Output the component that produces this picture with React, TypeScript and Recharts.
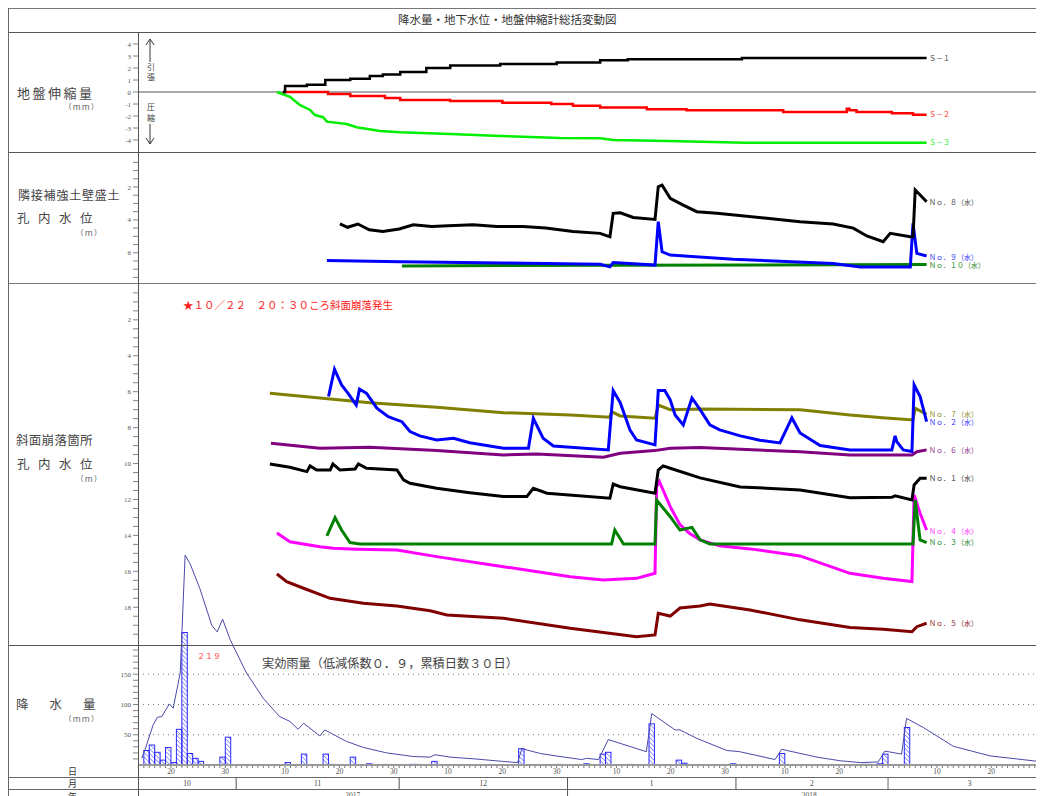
import React from 'react';
import { LineChart, ComposedChart, Line, Bar, XAxis, YAxis, ReferenceLine } from 'recharts';

// x value = "day": days since 2017-10-01 00:00
const X_DOMAIN: [number, number] = [12.925, 179.71];
const W = 1036;
const PLOT_LEFT = 130;
const DAY_W = (W - PLOT_LEFT) / (X_DOMAIN[1] - X_DOMAIN[0]);
const FONT = '"Noto Sans CJK JP", "Noto Sans", sans-serif';
const TICK_FONT = '"Liberation Serif", "DejaVu Serif", serif';

type Pt = [number, number];

// 地盤伸縮量 (mm)
const S1: Pt[] = [[39.6, 0], [40.0, 0.5], [44, 0.6], [47.4, 1.0], [52, 1.1], [55.6, 1.33], [58, 1.45], [61.2, 1.67], [66, 2.0], [70.4, 2.2], [79.6, 2.33], [90, 2.45], [98, 2.64], [103.1, 2.72], [124.1, 2.83], [158.1, 2.83]];
const S2: Pt[] = [[39.6, 0], [47.9, -0.17], [52, -0.33], [58.4, -0.5], [61.2, -0.67], [70.4, -0.75], [80, -0.9], [89, -1.0], [93, -1.15], [98, -1.3], [106.6, -1.44], [113.9, -1.53], [131.7, -1.67], [143.4, -1.4], [143.9, -1.53], [145.2, -1.67], [151.7, -1.78], [155.6, -1.89], [158.1, -1.89]];
const S3: Pt[] = [[38.5, 0], [40.9, -0.4], [42.7, -1.08], [44.6, -1.5], [45.5, -1.92], [47.0, -2.1], [47.7, -2.47], [51.3, -2.67], [53.2, -2.94], [57.5, -3.25], [61.2, -3.36], [70.4, -3.5], [79.6, -3.67], [90.6, -3.83], [98, -3.86], [100.4, -4.0], [110.5, -4.08], [124.7, -4.22], [158.1, -4.22]];

// 隣接補強土壁盛土 孔内水位 (m)
const NO8: Pt[] = [[50.1, 4.25], [51.5, 4.45], [53.4, 4.25], [55.5, 4.6], [58.0, 4.7], [61, 4.55], [63.6, 4.3], [67, 4.4], [70, 4.35], [74.6, 4.3], [79, 4.4], [83.8, 4.4], [88, 4.5], [93, 4.7], [98, 4.82], [99.8, 5.03], [100.4, 3.6], [101.7, 3.57], [104.1, 3.85], [108.1, 3.97], [108.7, 1.98], [109.4, 1.88], [110.9, 2.69], [113.3, 3.1], [115.8, 3.5], [119.5, 3.6], [128.7, 3.9], [134.8, 4.11], [140.9, 4.25], [144.6, 4.5], [147.1, 4.98], [150.1, 5.33], [151.4, 4.82], [155.1, 5.03], [155.6, 5.03], [156.0, 2.18], [156.6, 2.38], [158.1, 2.9]];
const NO9: Pt[] = [[47.7, 6.47], [61.2, 6.55], [80, 6.62], [98, 6.7], [99.8, 6.86], [100.4, 6.6], [108.1, 6.75], [108.7, 4.11], [109.4, 5.94], [110.9, 6.14], [122.5, 6.4], [140.9, 6.65], [145.9, 6.86], [155.1, 6.86], [155.6, 4.21], [156.3, 6.04], [158.1, 6.2]];
const NO10: Pt[] = [[61.5, 6.8], [100, 6.76], [158.1, 6.72]];

// 斜面崩落箇所 孔内水位 (m)
const NO7: Pt[] = [[37.2, 6.09], [55.6, 6.61], [67.9, 6.87], [80.2, 7.17], [92.5, 7.3], [99.8, 7.42], [100.1, 7.11], [101.7, 7.35], [108.1, 7.48], [108.7, 6.74], [110.9, 7.0], [116.4, 6.96], [134.8, 7.0], [144.0, 7.3], [150, 7.45], [155.6, 7.57], [156.0, 6.92], [158.1, 7.26]];
const NO2: Pt[] = [[48.0, 6.27], [49.1, 4.75], [50.4, 5.62], [51.6, 6.09], [53.1, 6.74], [53.7, 5.86], [55.0, 6.09], [56.9, 6.92], [59.0, 7.39], [60.2, 7.53], [61.5, 7.67], [63.0, 8.22], [64.8, 8.46], [67.9, 8.69], [71.0, 8.59], [74.0, 8.84], [80.2, 9.15], [84.8, 9.15], [85.7, 7.48], [87.5, 8.59], [89.4, 9.02], [99.5, 9.24], [100.4, 5.94], [101.7, 6.61], [103.5, 8.13], [104.7, 8.69], [108.1, 8.96], [108.7, 5.94], [109.9, 5.94], [110.9, 6.46], [111.8, 7.3], [113.3, 7.85], [114.9, 6.35], [116.4, 7.0], [118.2, 7.85], [120.0, 8.13], [123.8, 8.46], [127.4, 8.7], [131.1, 8.85], [133.3, 7.46], [134.8, 8.3], [138.5, 9.0], [144.0, 9.24], [151.7, 9.24], [152.3, 8.46], [152.6, 8.78], [153.8, 9.24], [155.4, 9.33], [155.8, 5.62], [156.9, 6.27], [158.1, 7.67]];
const NO6: Pt[] = [[37.4, 8.87], [46.4, 9.15], [55.6, 9.09], [67.9, 9.28], [80.2, 9.52], [86.3, 9.47], [98.6, 9.65], [101.7, 9.43], [108, 9.28], [110.9, 9.15], [116.4, 9.1], [134.8, 9.35], [144.0, 9.52], [155.4, 9.52], [156.3, 9.34], [158.1, 9.24]];
const NO1: Pt[] = [[37.2, 10.02], [40.9, 10.21], [44.0, 10.45], [44.6, 10.13], [45.8, 10.36], [48.3, 10.36], [48.8, 10.02], [50.1, 10.36], [52.9, 10.3], [53.5, 10.02], [55.0, 10.26], [60.6, 10.36], [61.8, 10.91], [63.0, 11.1], [67.9, 11.38], [74.0, 11.62], [80.2, 11.84], [84.5, 11.84], [85.7, 11.38], [88.2, 11.65], [99.8, 11.93], [100.4, 11.14], [101.7, 11.29], [108.1, 11.65], [108.7, 10.36], [109.6, 10.13], [110.9, 10.26], [116.4, 10.8], [123.8, 11.3], [134.8, 11.47], [144.0, 11.9], [151.7, 11.88], [152.3, 11.8], [155.4, 12.03], [155.8, 11.19], [156.9, 10.82], [158.1, 10.82]];
const NO4: Pt[] = [[38.5, 13.87], [40.9, 14.35], [46.4, 14.63], [48.9, 14.72], [53.2, 14.77], [60.6, 14.81], [67.9, 15.18], [80.2, 15.74], [92.5, 16.3], [98.6, 16.48], [104.7, 16.39], [108.1, 16.11], [108.4, 11.29], [108.9, 11.0], [110.9, 12.4], [112.7, 13.4], [114.5, 13.9], [116.4, 14.25], [120.0, 14.58], [125.6, 14.75], [134.8, 15.14], [144.0, 16.11], [150.1, 16.39], [155.4, 16.57], [155.8, 11.75], [156.9, 12.77], [158.1, 13.7]];
const NO3: Pt[] = [[47.7, 14.03], [49.2, 13.01], [50.4, 13.7], [51.95, 14.4], [53.8, 14.48], [100.1, 14.48], [100.7, 13.7], [102.3, 14.48], [108.1, 14.48], [108.4, 12.03], [110.9, 12.96], [112.7, 13.7], [114.9, 13.55], [116.4, 14.25], [118.2, 14.48], [155.6, 14.48], [156.0, 12.03], [156.9, 14.25], [158.1, 14.4]];
const NO5: Pt[] = [[38.5, 16.15], [40.3, 16.57], [43.4, 16.94], [48.3, 17.5], [54.4, 17.78], [60.6, 17.93], [66.7, 18.19], [69.8, 18.43], [80.2, 18.61], [92.5, 19.17], [104.7, 19.64], [108.1, 19.54], [108.7, 18.34], [110.9, 18.49], [112.7, 18.04], [116.4, 17.93], [118.2, 17.82], [125.6, 18.15], [134.8, 18.7], [144.0, 19.12], [150.1, 19.23], [155.4, 19.36], [156.3, 19.08], [158.1, 18.89]];

// 日雨量 (mm)
const RAIN: [string, number][] = [
  ['10/15', 24], ['10/16', 33], ['10/17', 21], ['10/18', 8], ['10/19', 29], ['10/20', 4], ['10/21', 59], ['10/22', 219],
  ['10/23', 19], ['10/24', 11], ['10/25', 6], ['10/29', 13], ['10/30', 46],
  ['11/10', 4], ['11/13', 18], ['11/17', 18], ['11/18', 1], ['11/22', 13], ['11/25', 2], ['11/28', 1],
  ['12/3', 1], ['12/4', 1], ['12/7', 6], ['12/23', 27], ['12/30', 1],
  ['1/4', 2], ['1/7', 18], ['1/8', 21], ['1/12', 1], ['1/16', 68], ['1/21', 8], ['1/22', 3], ['1/31', 2],
  ['2/9', 19], ['2/24', 1], ['2/25', 1], ['2/27', 2], ['2/28', 18],
  ['3/4', 62],
];
// 実効雨量 (mm)
const EFFECTIVE: Pt[] = [[13.6, 11], [14.2, 25], [15.7, 66], [16.5, 79], [17.3, 80], [18.7, 101], [19.4, 94], [20.7, 152], [21.6, 347], [22.5, 333], [24.3, 292], [26.5, 231], [27.5, 220], [28.5, 241], [29.9, 207], [32.9, 152], [36, 110], [39, 80], [40.9, 72], [42.4, 59], [43.4, 69], [46.4, 48], [47.3, 58], [51.3, 39], [54.4, 29], [58.7, 20], [63.6, 14], [66.7, 13], [67.6, 17], [70.4, 13], [75, 10], [80, 6], [82.8, 4], [83.6, 27], [87, 19], [90.6, 14], [94.6, 9], [95.5, 11], [97.7, 9], [99.5, 42], [106.5, 22], [107.5, 85], [111.8, 58], [112.7, 58], [115.8, 44], [121.3, 24], [123.7, 22], [130.2, 9], [131.4, 26], [137.9, 13], [142.2, 7], [145.9, 4], [149.2, 5], [150.4, 23], [153.5, 18], [154.4, 77], [157.5, 62], [163, 31], [169.8, 15], [179.6, 5]];

const MONTHS = [
  { m: 10, label: '10', start: 0 },
  { m: 11, label: '11', start: 31 },
  { m: 12, label: '12', start: 61 },
  { m: 1, label: '1', start: 92 },
  { m: 2, label: '2', start: 123 },
  { m: 3, label: '3', start: 151 },
];
const LAST_DAY_END = 181;
const YEARS = [{ label: '2017', from: X_DOMAIN[0], to: 92 }, { label: '2018', from: 92, to: LAST_DAY_END }];
const DAY_MARKS = [10, 20, 30];

const P1_LABELS = [-4, -3, -2, -1, 0, 1, 2, 3, 4];
const P2_LABELS = [2, 4, 6];
const P3_LABELS = [2, 4, 6, 8, 10, 12, 14, 16, 18];
const RAIN_LABELS = [50, 100, 150];

const toRows = (pts: Pt[]) => pts.map(([day, v]) => ({ day, v }));
const dayIndex = (md: string) => {
  const [m, d] = md.split('/').map(Number);
  const mo = MONTHS.find((x) => x.m === m)!;
  return mo.start + d - 1;
};
const rainRows = RAIN.map(([md, mm]) => ({ day: dayIndex(md) + 0.5, mm }));

const steps = (from: number, to: number, step: number) => {
  const out: number[] = [];
  for (let i = 0; from + i * step <= to + 1e-9; i++) out.push(from + i * step);
  return out;
};

// date axis bookkeeping
const dayLabelMap = new Map<number, string>();
const monthBounds = new Set<number>();
const monthLabelMap = new Map<number, string>();
MONTHS.forEach((mo, i) => {
  const end = i < MONTHS.length - 1 ? MONTHS[i + 1].start : LAST_DAY_END;
  DAY_MARKS.forEach((d) => {
    const t = mo.start + d - 1;
    if (t < end && t > X_DOMAIN[0]) dayLabelMap.set(t, String(d));
  });
  if (i > 0) monthBounds.add(mo.start);
  monthLabelMap.set((Math.max(mo.start, X_DOMAIN[0]) + end) / 2, mo.label);
});
const yearLabelMap = new Map<number, string>();
YEARS.forEach((y) => yearLabelMap.set((y.from + y.to) / 2, y.label));
const DATE_TICKS = Array.from(
  new Set([...steps(13, 179, 1), ...monthLabelMap.keys(), ...yearLabelMap.keys()])
).sort((a, b) => a - b);

const renderDateTick = (p: any) => {
  const v = p.payload.value;
  const x = p.x;
  const y = p.y;
  const els: React.ReactNode[] = [];
  if (Number.isInteger(v)) {
    els.push(<line key="t" x1={x} x2={x} y1={y + 1} y2={y + 3} stroke="#555" strokeWidth={0.8} />);
  }
  if (dayLabelMap.has(v)) {
    els.push(
      <text key="d" x={x} y={y + 9} textAnchor="middle" fontSize={7.5} fill="#555" fontFamily={TICK_FONT}>
        {dayLabelMap.get(v)}
      </text>
    );
  }
  if (monthBounds.has(v)) {
    els.push(<line key="mb" x1={x} x2={x} y1={y + 12} y2={y + 24} stroke={v === 151 ? '#999' : '#555'} strokeWidth={v === 151 ? 1.5 : 1} />);
  }
  if (v === 92) {
    els.push(<line key="yb" x1={x} x2={x} y1={y + 24} y2={y + 40} stroke="#555" strokeWidth={1} />);
  }
  if (monthLabelMap.has(v)) {
    els.push(
      <text key="m" x={x} y={y + 21} textAnchor="middle" fontSize={7.5} fill="#444" fontFamily={TICK_FONT}>
        {monthLabelMap.get(v)}
      </text>
    );
  }
  if (yearLabelMap.has(v)) {
    els.push(
      <text key="y" x={x} y={y + 33} textAnchor="middle" fontSize={7.5} fill="#555" fontFamily={TICK_FONT}>
        {yearLabelMap.get(v)}
      </text>
    );
  }
  return <g>{els}</g>;
};

const yTick = (labels: number[]) => (p: any) => {
  const v = p.payload.value;
  if (!labels.includes(v)) return <g />;
  return (
    <text x={p.x} y={p.y} dy={2.5} textAnchor="end" fontSize={7} fill="#555" fontFamily={TICK_FONT}>
      {v}
    </text>
  );
};

// one-day wide hatched bar, centred on the x the library computed
const RainBar = (p: any) => {
  const { x, y, width, height } = p;
  if (!height || height <= 0) return <g />;
  const cx = x + width / 2;
  return (
    <rect x={cx - DAY_W / 2} y={y} width={DAY_W} height={height} fill="url(#hatch)" stroke="#2a2aff" strokeWidth={1} />
  );
};

const margin = { top: 0, right: 0, bottom: 0, left: PLOT_LEFT - 30 };
const yAxisCommon = {
  type: 'number' as const,
  width: 30,
  interval: 0 as const,
  tickSize: 5,
  tickMargin: 2,
  axisLine: false,
  tickLine: { stroke: '#666', strokeWidth: 0.8 },
  allowDataOverflow: true,
};
const hiddenX = <XAxis type="number" dataKey="day" domain={X_DOMAIN} hide allowDataOverflow />;

const series = (pts: Pt[], color: string, width = 3, type: any = 'linear') => (
  <Line data={toRows(pts)} dataKey="v" type={type} stroke={color} strokeWidth={width} dot={false} isAnimationActive={false} />
);

const Txt = ({ x, y, size, color = '#333', ls = 0, family = FONT, children }: any) => (
  <div
    style={{
      position: 'absolute',
      left: x - 8,
      top: y - 8 - size / 2,
      fontSize: size,
      lineHeight: `${size}px`,
      color,
      letterSpacing: ls,
      whiteSpace: 'nowrap',
      fontFamily: family,
    }}
  >
    {children}
  </div>
);

const HLine = ({ y, color = '#555', w = 1 }: any) => (
  <div style={{ position: 'absolute', left: 0, top: y - 8, width: W, height: w, background: color }} />
);

const place = (top: number): React.CSSProperties => ({ position: 'absolute', left: 0, top: top - 8 });

export default function App() {
  return (
    <div style={{ position: 'relative', width: W, height: 788, overflow: 'hidden', background: '#fff', fontFamily: FONT }}>
      {/* 地盤伸縮量 */}
      <div style={place(32)}>
        <LineChart width={W} height={120} margin={margin}>
          {hiddenX}
          <YAxis {...yAxisCommon} domain={[-5, 5]} ticks={P1_LABELS} tick={yTick(P1_LABELS)} />
          <ReferenceLine y={0} stroke="#aaa" strokeWidth={2} />
          {series(S3, '#00ee00', 2.5, 'linear')}
          {series(S2, '#ff0000', 2.5, 'stepAfter')}
          {series(S1, '#000000', 2.5, 'stepAfter')}
        </LineChart>
      </div>

      {/* 隣接補強土壁盛土 孔内水位 */}
      <div style={place(152)}>
        <LineChart width={W} height={131} margin={margin}>
          {hiddenX}
          <YAxis {...yAxisCommon} domain={[-0.13, 7.84]} reversed ticks={steps(0.5, 7.5, 0.5)} tick={yTick(P2_LABELS)} />
          {series(NO10, '#008000')}
          {series(NO9, '#0000ff')}
          {series(NO8, '#000000')}
        </LineChart>
      </div>

      {/* 斜面崩落箇所 孔内水位 */}
      <div style={place(283)}>
        <LineChart width={W} height={362} margin={margin}>
          {hiddenX}
          <YAxis {...yAxisCommon} domain={[-0.05, 20.1]} reversed ticks={steps(0.5, 19.5, 0.5)} tick={yTick(P3_LABELS)} />
          {series(NO5, '#800000')}
          {series(NO4, '#ff00ff')}
          {series(NO3, '#008000')}
          {series(NO1, '#000000')}
          {series(NO6, '#800080')}
          {series(NO7, '#808000')}
          {series(NO2, '#0000ff')}
        </LineChart>
      </div>

      {/* 降水量 */}
      <div style={place(540)}>
        <ComposedChart width={W} height={256} data={rainRows} margin={margin}>
          <defs>
            <pattern id="hatch" patternUnits="userSpaceOnUse" width="3.2" height="3.2" patternTransform="rotate(-45)">
              <line x1="0" y1="0" x2="0" y2="3.2" stroke="#3a3aff" strokeWidth="1" />
            </pattern>
          </defs>
          <XAxis
            type="number"
            dataKey="day"
            domain={X_DOMAIN}
            ticks={DATE_TICKS}
            interval={0}
            tick={renderDateTick}
            tickSize={0}
            tickMargin={0}
            height={31}
            axisLine={{ stroke: '#999', strokeWidth: 2 }}
            allowDataOverflow
          />
          <YAxis {...yAxisCommon} domain={[0, 371.9]} ticks={steps(10, 190, 10)} tick={yTick(RAIN_LABELS)} />
          {RAIN_LABELS.map((v) => (
            <ReferenceLine key={v} y={v} stroke="#777" strokeDasharray="1 4" strokeWidth={1} />
          ))}
          <Bar dataKey="mm" barSize={4} shape={RainBar} isAnimationActive={false} />
          {series(EFFECTIVE, '#4a4aaa', 1, 'linear')}
        </ComposedChart>
      </div>

      {/* frame */}
      <HLine y={8} color="#777" />
      <HLine y={32} />
      <HLine y={152} />
      <HLine y={283} color="#777" />
      <HLine y={645} />
      <HLine y={777} color="#666" />
      <HLine y={789} color="#666" />
      <div style={{ position: 'absolute', left: 0, top: 0, width: 1, height: 788, background: '#666' }} />
      <div style={{ position: 'absolute', left: PLOT_LEFT, top: 24, width: 1, height: 764, background: '#555' }} />

      {/* title */}
      <Txt x={398} y={20} size={11.5}>降水量・地下水位・地盤伸縮計総括変動図</Txt>

      {/* left column */}
      <Txt x={17} y={92} size={13} ls={2.5} color="#444">地盤伸縮量</Txt>
      <Txt x={64} y={107} size={7.5} ls={1.5} color="#555">（ｍｍ）</Txt>
      <Txt x={18} y={195} size={12} ls={0.8} color="#444">隣接補強土壁盛土</Txt>
      <Txt x={17} y={218} size={12.5} ls={8.5} color="#444">孔内水位</Txt>
      <Txt x={76} y={233} size={7.5} ls={1.5} color="#555">（ｍ）</Txt>
      <Txt x={16} y={440} size={12.5} ls={0.3} color="#444">斜面崩落箇所</Txt>
      <Txt x={17} y={464} size={12.5} ls={8.5} color="#444">孔内水位</Txt>
      <Txt x={76} y={479} size={7.5} ls={1.5} color="#555">（ｍ）</Txt>
      <Txt x={16} y={704} size={12.5} ls={21} color="#444">降水量</Txt>
      <Txt x={64} y={719} size={7.5} ls={1.5} color="#555">（ｍｍ）</Txt>
      <Txt x={68} y={771} size={9} color="#333">日</Txt>
      <Txt x={68} y={783} size={9} color="#333">月</Txt>
      <Txt x={68} y={796} size={9} color="#333">年</Txt>

      {/* 引張 / 圧縮 arrows */}
      <svg style={{ position: 'absolute', left: 132, top: 28 }} width={20} height={112}>
        <line x1={10} x2={10} y1={4} y2={26} stroke="#333" strokeWidth={1} />
        <polyline points="6,9 10,3 14,9" fill="none" stroke="#333" strokeWidth={1} />
        <line x1={10} x2={10} y1={88} y2={108} stroke="#333" strokeWidth={1} />
        <polyline points="6,102 10,108 14,102" fill="none" stroke="#333" strokeWidth={1} />
      </svg>
      <Txt x={147} y={67} size={8} color="#444">引</Txt>
      <Txt x={147} y={77} size={8} color="#444">張</Txt>
      <Txt x={147} y={107} size={8} color="#444">圧</Txt>
      <Txt x={147} y={118} size={8} color="#444">縮</Txt>

      {/* series labels */}
      <Txt x={929} y={58} size={7} color="#444">Ｓ－１</Txt>
      <Txt x={929} y={114} size={7} color="#ff3030">Ｓ－２</Txt>
      <Txt x={929} y={142} size={7} color="#22ee22">Ｓ－３</Txt>
      <Txt x={929} y={202} size={7} color="#444">Ｎｏ．８（水）</Txt>
      <Txt x={929} y={257} size={7} color="#3030ff">Ｎｏ．９（水）</Txt>
      <Txt x={929} y={265} size={7} color="#208820">Ｎｏ．１０（水）</Txt>
      <Txt x={929} y={414} size={7} color="#8a8a20">Ｎｏ．７（水）</Txt>
      <Txt x={929} y={422} size={7} color="#3030ff">Ｎｏ．２（水）</Txt>
      <Txt x={929} y={450} size={7} color="#8a2a8a">Ｎｏ．６（水）</Txt>
      <Txt x={929} y={478} size={7} color="#333">Ｎｏ．１（水）</Txt>
      <Txt x={929} y={531} size={7} color="#ff30ff">Ｎｏ．４（水）</Txt>
      <Txt x={929} y={542} size={7} color="#208020">Ｎｏ．３（水）</Txt>
      <Txt x={929} y={623} size={7} color="#8a2020">Ｎｏ．５（水）</Txt>

      {/* annotations */}
      <Txt x={183} y={305} size={10.5} color="#ff2020">★１０／２２　２０：３０ころ斜面崩落発生</Txt>
      <Txt x={197} y={656} size={8} color="#ff4040">２１９</Txt>
      <Txt x={262} y={663} size={12.2} color="#444">実効雨量（低減係数０．９，累積日数３０日）</Txt>
    </div>
  );
}
